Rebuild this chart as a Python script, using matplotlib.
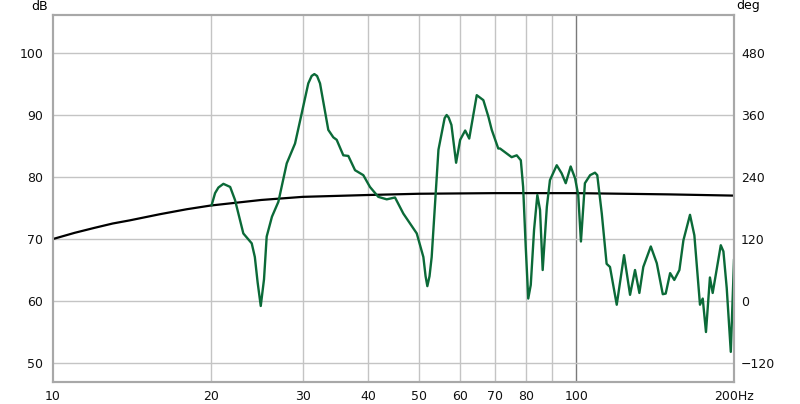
import matplotlib
matplotlib.use("Agg")
import matplotlib.pyplot as plt
import numpy as np

# Black reference curve (dB)
ref_freq = [10, 11, 12, 13, 14, 16, 18, 20, 25, 30, 40, 50, 70, 100, 150, 200]
ref_db = [70.0, 71.0, 71.8, 72.5, 73.0, 74.0, 74.8, 75.4, 76.3, 76.8, 77.1, 77.3, 77.4, 77.4, 77.2, 77.0]

# Green measured curve
freq = [20.1, 20.4, 20.7, 21.16, 21.8, 22.27, 23.1, 23.97, 24.3, 24.6, 24.94, 25.3, 25.6, 26.2, 26.95,
        27.96, 29.0, 29.87, 30.74, 31.2, 31.57, 31.95, 32.37, 33.57, 34.32, 34.83, 35.86, 36.66,
        37.76, 39.16, 40.32, 41.83, 43.41, 45.02, 46.7, 49.54, 51.0, 51.5, 51.9, 52.4, 52.9,
        54.5, 56.0, 56.5, 57.0, 57.7, 58.9, 59.96, 61.3, 62.4, 64.5, 66.4, 67.9, 68.9, 70.9,
        71.45, 75.2, 76.9, 78.3, 79.1, 80.0, 80.9, 81.8, 83.0, 84.2, 85.2, 86.2,
        87.8, 89.0, 91.7, 93.7, 95.4, 97.5, 99.4, 100.8, 102.0, 103.8, 106.2,
        108.5, 109.6, 111.8, 114.2, 115.9, 119.4, 123.3, 126.6, 129.4, 131.9,
        134.2, 138.7, 142.4, 146.2, 148.1, 151.0, 153.8, 157.3, 160.1, 164.8,
        168.0, 172.2, 174.3, 176.8, 179.9, 182.1, 188.7, 190.9, 193.7, 197.2, 200.0]
db = [75.5, 77.4, 78.3, 78.9, 78.4, 76.3, 70.9, 69.3, 67.1, 63.0, 59.2, 63.5, 70.4, 73.6, 76.0,
      82.2, 85.4, 90.3, 95.1, 96.3, 96.6, 96.3, 95.1, 87.6, 86.4, 86.0, 83.5, 83.4,
      81.1, 80.3, 78.4, 76.8, 76.4, 76.7, 74.1, 70.9, 67.1, 64.0, 62.4, 64.0, 67.1,
      84.4, 89.5, 90.0, 89.6, 88.4, 82.3, 86.0, 87.5, 86.2, 93.2, 92.4, 89.7, 87.6, 84.6,
      84.6, 83.2, 83.5, 82.7, 78.4, 68.8, 60.4, 62.6, 71.5, 77.1, 74.7, 65.0,
      75.2, 79.5, 81.9, 80.6, 79.0, 81.7, 79.8, 77.1, 69.6, 79.0, 80.3,
      80.7, 80.3, 74.1, 66.0, 65.5, 59.4, 67.4, 61.0, 65.0, 61.3,
      65.5, 68.8, 66.1, 61.1, 61.2, 64.5, 63.4, 65.0, 69.8, 73.9,
      70.6, 59.4, 60.4, 55.0, 63.8, 61.3, 69.0, 68.0, 62.1, 51.8, 66.6]

xticks = [10, 20, 30, 40, 50, 60, 70, 80, 100, 200]
xticklabels = ["10", "20", "30", "40", "50", "60", "70", "80", "100", "200Hz"]
xgrid = [20, 30, 40, 50, 60, 70, 80, 90]
yticks = [50, 60, 70, 80, 90, 100]
deg_ticks = [-120, 0, 120, 240, 360, 480]

fig = plt.figure(figsize=(8, 4.04), dpi=100)
ax = fig.add_axes([53/800, 1-382/404, (734-53)/800, (382-15)/404])
ax.set_xscale("log")
ax.set_xlim(10, 200)
ax.set_ylim(46.94, 106.13)

for g in xgrid:
    ax.axvline(g, color="#c4c4c4", lw=1.0, zorder=1)
ax.axvline(100, color="#7a7a7a", lw=1.0, zorder=1)
for y in yticks:
    ax.axhline(y, color="#c4c4c4", lw=1.0, zorder=1)

ax.plot(ref_freq, ref_db, color="black", lw=1.6, zorder=3)
ax.plot(freq, db, color="#0b6a38", lw=1.7, zorder=4, solid_joinstyle="round")

ax.set_xticks(xticks)
ax.set_xticklabels(xticklabels)
ax.xaxis.set_minor_locator(matplotlib.ticker.NullLocator())
ax.set_yticks(yticks)
ax.tick_params(axis="both", length=0, labelsize=9, colors="#111111")
ax.tick_params(axis="y", pad=7)
ax.tick_params(axis="x", pad=6)

ax2 = ax.twinx()
ax2.set_ylim((46.94-60)*12, (106.13-60)*12)
ax2.set_yticks(deg_ticks)
ax2.tick_params(axis="y", length=0, labelsize=9, pad=5, colors="#111111")

for a in (ax, ax2):
    for s in a.spines.values():
        s.set_color("#a8a8a8")
        s.set_linewidth(1.5)

fig.text(40/800, 1-6/404, "dB", fontsize=9, ha="center", va="center")
fig.text(748/800, 1-6/404, "deg", fontsize=9, ha="center", va="center")

fig.savefig("out.png", dpi=100)
